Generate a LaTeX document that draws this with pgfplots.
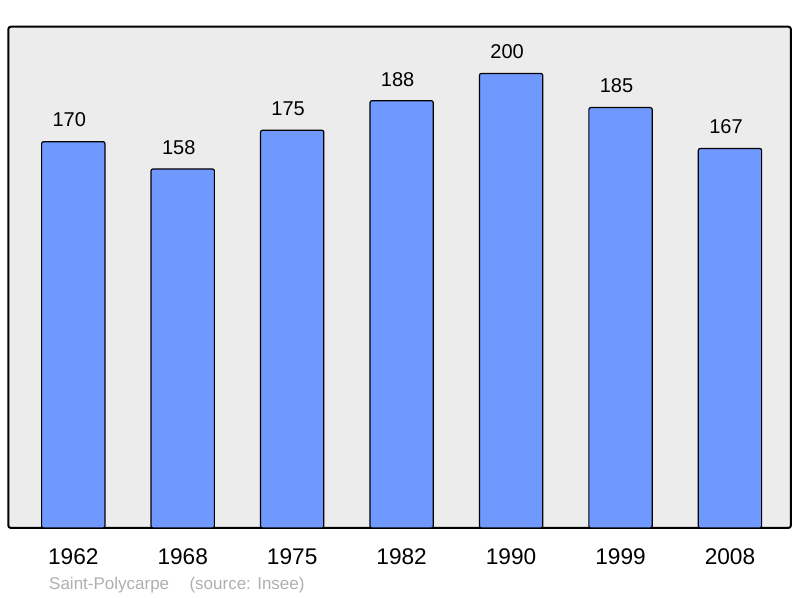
\documentclass[border=0pt]{standalone}
\usepackage{pgfplots}
\pgfplotsset{compat=1.18}
\usepackage{fontspec}
\setmainfont{Liberation Sans}
\definecolor{barblue}{RGB}{112,153,255}
\definecolor{bggray}{RGB}{236,236,236}
\definecolor{capgray}{RGB}{175,175,175}
\begin{document}
\begin{tikzpicture}
\useasboundingbox (-6.2pt,-52.5pt) rectangle (593.8pt,396pt);
\begin{axis}[
  at={(0pt,0pt)}, anchor=south west,
  scale only axis,
  width=587pt, height=376pt,
  xmin=-0.594, xmax=6.557,
  ymin=0, ymax=220.6,
  axis background/.style={fill=bggray},
  axis line style={line width=1.5pt, rounded corners=2pt},
  ytick=\empty,
  xtick=data,
  xticklabels={1962,1968,1975,1982,1990,1999,2008},
  major tick length=0pt,
  xticklabel style={anchor=base, yshift=-27.5pt, font=\fontsize{17}{20}\selectfont},
  /pgf/number format/assume math mode=true,
  ybar, bar width=47.5pt,
  nodes near coords,
  every node near coord/.append style={anchor=base, yshift=11pt, xshift=-3pt, font=\fontsize{15}{18}\selectfont, black},
  clip=false,
]
\addplot[fill=barblue, draw=black, line width=0.9pt, rounded corners=1.5pt] coordinates {
(0,170) (1,158) (2,175) (3,188) (4,200) (5,185) (6,167)};
\end{axis}
\node[anchor=west, text=capgray, font=\fontsize{12.75}{15}\selectfont, inner sep=0pt] at (30.5pt,-42.75pt) {Saint-Polycarpe\hspace{1.2em}(source: Insee)};
\end{tikzpicture}
\end{document}
